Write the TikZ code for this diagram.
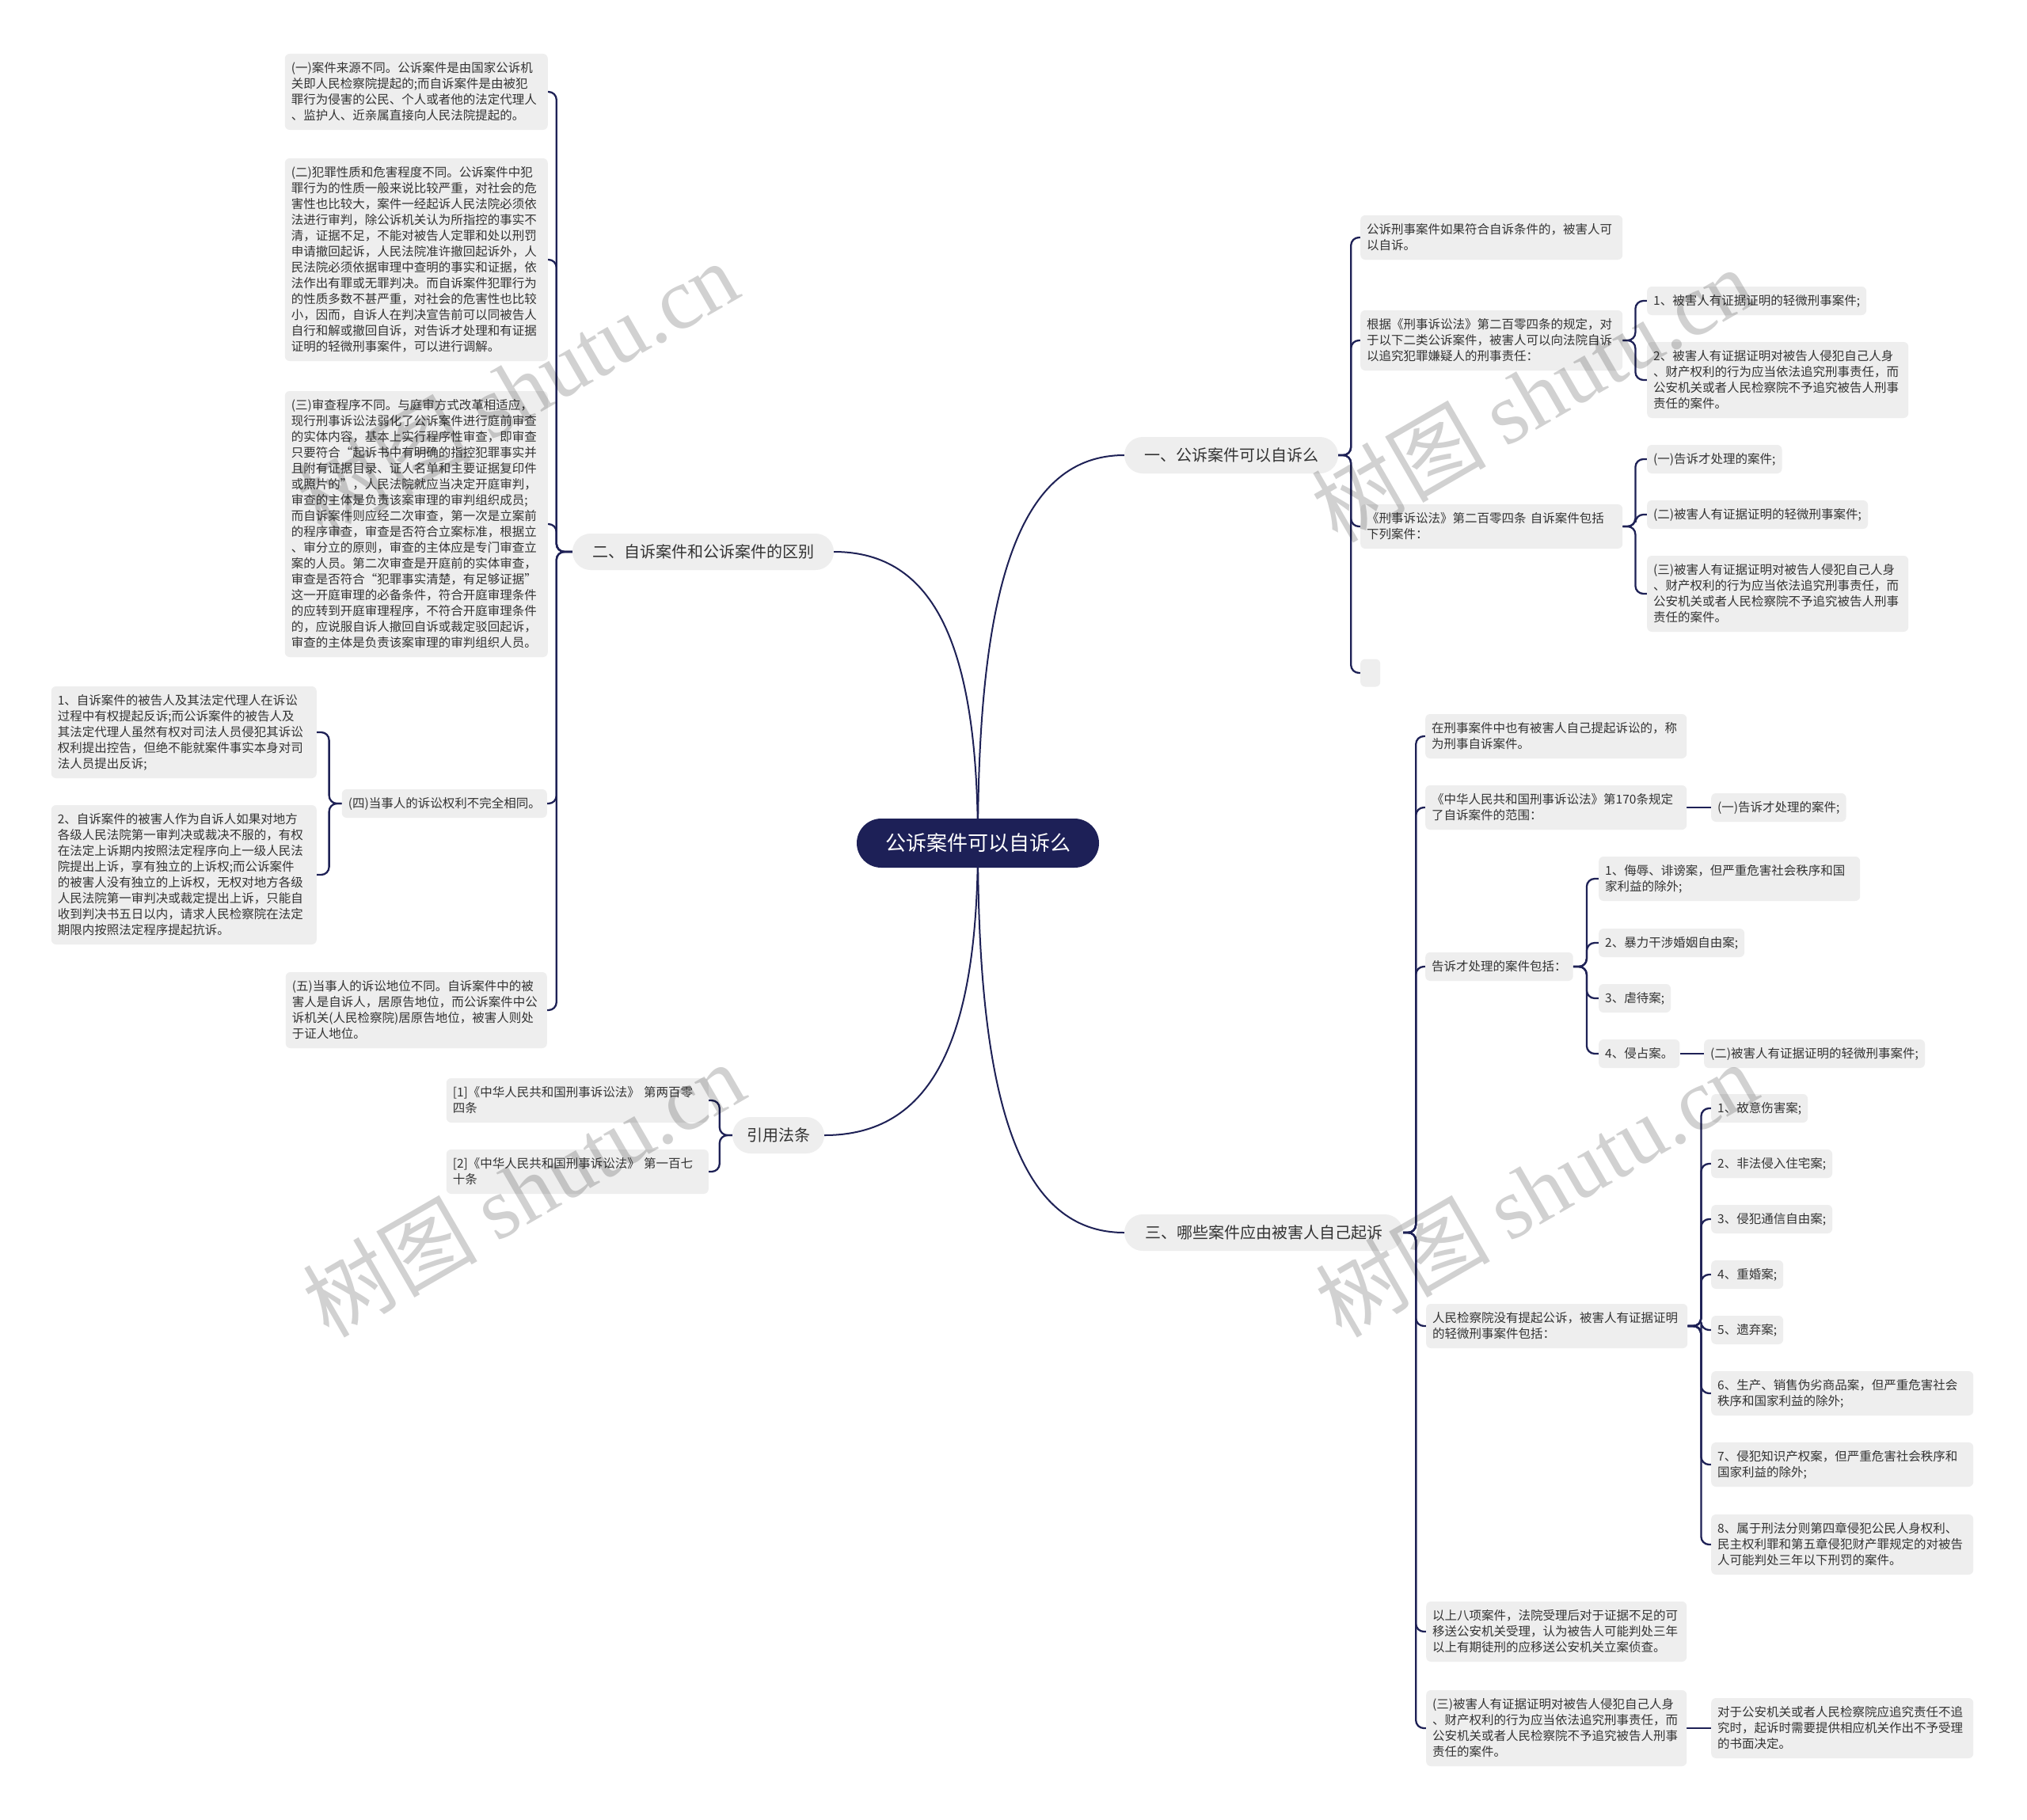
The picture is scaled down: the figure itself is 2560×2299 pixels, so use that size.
\documentclass[tikz,border=0pt]{standalone}
\usepackage{fontspec}
\setmainfont{Noto Sans CJK SC}
\newfontfamily\wmserif{Liberation Serif}
\usetikzlibrary{backgrounds}
\definecolor{linec}{HTML}{1E2156}
\definecolor{rootc}{HTML}{1D2057}
\definecolor{boxc}{HTML}{EEEEEE}
\definecolor{txtc}{HTML}{333333}
\tikzset{
  mainline/.style={draw=linec, line width=2pt},
  conn/.style={draw=linec, line width=2.3pt, rounded corners=10pt},
  box/.style={fill=boxc, rounded corners=6pt, text=txtc, font=\fontsize{15.5}{20}\selectfont, align=left, inner xsep=8pt, inner ysep=0pt},
  lines/.style={minimum height={20*#1+16}},
  pill/.style={fill=boxc, rounded corners=23pt, text=txtc, font=\fontsize{20}{24}\selectfont, minimum height=46pt, inner sep=0pt},
  rootnode/.style={fill=rootc, rounded corners=31pt, text=white, font=\fontsize{26}{30}\selectfont, minimum width=306pt, minimum height=62pt, inner sep=0pt},
  wm/.style={text=black, opacity=0.18, rotate=30, font=\fontsize{110}{110}\selectfont, inner sep=0pt}
}
\begin{document}
\begin{tikzpicture}[x=1pt,y=-1pt]
\useasboundingbox (0,0) rectangle (2560,2299);

% root and main branches
\node[rootnode] (root) at (1235,1065) {公诉案件可以自诉么};
\node[pill, minimum width=270] (b1) at (1555,575) {一、公诉案件可以自诉么};
\node[pill, minimum width=330] (b2) at (888,697) {二、自诉案件和公诉案件的区别};
\node[pill, minimum width=116] (b3) at (983,1434) {引用法条};
\node[pill, minimum width=352] (b4) at (1596,1557) {三、哪些案件应由被害人自己起诉};

% ---- branch 二 (left)
\node[box, text width=316, lines=4, anchor=east] (l1) at (692,116) {(一)案件来源不同。公诉案件是由国家公诉机\\关即人民检察院提起的;而自诉案件是由被犯\\罪行为侵害的公民、个人或者他的法定代理人\\、监护人、近亲属直接向人民法院提起的。};
\node[box, text width=316, lines=12, anchor=east] (l2) at (692,328) {(二)犯罪性质和危害程度不同。公诉案件中犯\\罪行为的性质一般来说比较严重，对社会的危\\害性也比较大，案件一经起诉人民法院必须依\\法进行审判，除公诉机关认为所指控的事实不\\清，证据不足，不能对被告人定罪和处以刑罚\\申请撤回起诉，人民法院准许撤回起诉外，人\\民法院必须依据审理中查明的事实和证据，依\\法作出有罪或无罪判决。而自诉案件犯罪行为\\的性质多数不甚严重，对社会的危害性也比较\\小，因而，自诉人在判决宣告前可以同被告人\\自行和解或撤回自诉，对告诉才处理和有证据\\证明的轻微刑事案件，可以进行调解。};
\node[box, text width=316, lines=16, anchor=east] (l3) at (692,662) {(三)审查程序不同。与庭审方式改革相适应，\\现行刑事诉讼法弱化了公诉案件进行庭前审查\\的实体内容，基本上实行程序性审查，即审查\\只要符合“起诉书中有明确的指控犯罪事实并\\且附有证据目录、证人名单和主要证据复印件\\或照片的”，人民法院就应当决定开庭审判，\\审查的主体是负责该案审理的审判组织成员;\\而自诉案件则应经二次审查，第一次是立案前\\的程序审查，审查是否符合立案标准，根据立\\、审分立的原则，审查的主体应是专门审查立\\案的人员。第二次审查是开庭前的实体审查，\\审查是否符合“犯罪事实清楚，有足够证据”\\这一开庭审理的必备条件，符合开庭审理条件\\的应转到开庭审理程序，不符合开庭审理条件\\的，应说服自诉人撤回自诉或裁定驳回起诉，\\审查的主体是负责该案审理的审判组织人员。};
\node[box, lines=1, anchor=east] (l4) at (691,1015) {(四)当事人的诉讼权利不完全相同。};
\node[box, text width=319, lines=5, anchor=east] (l4a) at (400,925) {1、自诉案件的被告人及其法定代理人在诉讼\\过程中有权提起反诉;而公诉案件的被告人及\\其法定代理人虽然有权对司法人员侵犯其诉讼\\权利提出控告，但绝不能就案件事实本身对司\\法人员提出反诉;};
\node[box, text width=319, lines=8, anchor=east] (l4b) at (400,1105) {2、自诉案件的被害人作为自诉人如果对地方\\各级人民法院第一审判决或裁决不服的，有权\\在法定上诉期内按照法定程序向上一级人民法\\院提出上诉，享有独立的上诉权;而公诉案件\\的被害人没有独立的上诉权，无权对地方各级\\人民法院第一审判决或裁定提出上诉，只能自\\收到判决书五日以内，请求人民检察院在法定\\期限内按照法定程序提起抗诉。};
\node[box, text width=314, lines=4, anchor=east] (l5) at (691,1276) {(五)当事人的诉讼地位不同。自诉案件中的被\\害人是自诉人，居原告地位，而公诉案件中公\\诉机关(人民检察院)居原告地位，被害人则处\\于证人地位。};

% ---- 引用法条
\node[box, text width=315, lines=2, anchor=east] (c1) at (895,1390) {[1]《中华人民共和国刑事诉讼法》 第两百零\\四条};
\node[box, text width=315, lines=2, anchor=east] (c2) at (895,1480) {[2]《中华人民共和国刑事诉讼法》 第一百七\\十条};

% ---- branch 一 (right)
\node[box, text width=315, lines=2, anchor=west] (r1) at (1718,300) {公诉刑事案件如果符合自诉条件的，被害人可\\以自诉。};
\node[box, text width=315, lines=3, anchor=west] (r2) at (1718,430) {根据《刑事诉讼法》第二百零四条的规定，对\\于以下二类公诉案件，被害人可以向法院自诉\\以追究犯罪嫌疑人的刑事责任：};
\node[box, lines=1, anchor=west] (r2a) at (2080,380) {1、被害人有证据证明的轻微刑事案件;};
\node[box, text width=314, lines=4, anchor=west] (r2b) at (2080,480) {2、被害人有证据证明对被告人侵犯自己人身\\、财产权利的行为应当依法追究刑事责任，而\\公安机关或者人民检察院不予追究被告人刑事\\责任的案件。};
\node[box, text width=315, lines=2, anchor=west] (r3) at (1718,665) {《刑事诉讼法》第二百零四条 自诉案件包括\\下列案件：};
\node[box, lines=1, anchor=west] (r3a) at (2080,580) {(一)告诉才处理的案件;};
\node[box, lines=1, anchor=west] (r3b) at (2080,650) {(二)被害人有证据证明的轻微刑事案件;};
\node[box, text width=314, lines=4, anchor=west] (r3c) at (2080,750) {(三)被害人有证据证明对被告人侵犯自己人身\\、财产权利的行为应当依法追究刑事责任，而\\公安机关或者人民检察院不予追究被告人刑事\\责任的案件。};
\node[box, minimum width=25, minimum height=35, inner sep=0pt, anchor=west] (r4) at (1718,850) {};

% ---- branch 三 (right)
\node[box, text width=314, lines=2, anchor=west] (s1) at (1800,930) {在刑事案件中也有被害人自己提起诉讼的，称\\为刑事自诉案件。};
\node[box, text width=314, lines=2, anchor=west] (s2) at (1800,1020) {《中华人民共和国刑事诉讼法》第170条规定\\了自诉案件的范围：};
\node[box, lines=1, anchor=west] (s2a) at (2161,1020) {(一)告诉才处理的案件;};
\node[box, lines=1, anchor=west] (s3) at (1800,1221) {告诉才处理的案件包括：};
\node[box, text width=314, lines=2, anchor=west] (s3a) at (2019,1110) {1、侮辱、诽谤案，但严重危害社会秩序和国\\家利益的除外;};
\node[box, lines=1, anchor=west] (s3b) at (2019,1191) {2、暴力干涉婚姻自由案;};
\node[box, lines=1, anchor=west] (s3c) at (2019,1261) {3、虐待案;};
\node[box, lines=1, anchor=west] (s3d) at (2019,1331) {4、侵占案。};
\node[box, lines=1, anchor=west] (s3e) at (2152,1331) {(二)被害人有证据证明的轻微刑事案件;};
\node[box, text width=314, lines=2, anchor=west] (s4) at (1801,1675) {人民检察院没有提起公诉，被害人有证据证明\\的轻微刑事案件包括：};
\node[box, lines=1, anchor=west] (s4a) at (2161,1400) {1、故意伤害案;};
\node[box, lines=1, anchor=west] (s4b) at (2161,1470) {2、非法侵入住宅案;};
\node[box, lines=1, anchor=west] (s4c) at (2161,1540) {3、侵犯通信自由案;};
\node[box, lines=1, anchor=west] (s4d) at (2161,1610) {4、重婚案;};
\node[box, lines=1, anchor=west] (s4e) at (2161,1680) {5、遗弃案;};
\node[box, text width=315, lines=2, anchor=west] (s4f) at (2161,1760) {6、生产、销售伪劣商品案，但严重危害社会\\秩序和国家利益的除外;};
\node[box, text width=315, lines=2, anchor=west] (s4g) at (2161,1850) {7、侵犯知识产权案，但严重危害社会秩序和\\国家利益的除外;};
\node[box, text width=315, lines=3, anchor=west] (s4h) at (2161,1951) {8、属于刑法分则第四章侵犯公民人身权利、\\民主权利罪和第五章侵犯财产罪规定的对被告\\人可能判处三年以下刑罚的案件。};
\node[box, text width=313, lines=3, anchor=west] (s5) at (1801,2061) {以上八项案件，法院受理后对于证据不足的可\\移送公安机关受理，认为被告人可能判处三年\\以上有期徒刑的应移送公安机关立案侦查。};
\node[box, text width=313, lines=4, anchor=west] (s6) at (1801,2183) {(三)被害人有证据证明对被告人侵犯自己人身\\、财产权利的行为应当依法追究刑事责任，而\\公安机关或者人民检察院不予追究被告人刑事\\责任的案件。};
\node[box, text width=315, lines=3, anchor=west] (s6a) at (2161,2183) {对于公安机关或者人民检察院应追究责任不追\\究时，起诉时需要提供相应机关作出不予受理\\的书面决定。};

% ---- background and connectors
\begin{scope}[on background layer]
\fill[white] (0,0) rectangle (2560,2299);
\draw[mainline] (root.center) .. controls (1235,732) and (1290,575) .. (b1.west);
\draw[mainline] (root.center) .. controls (1235,815) and (1180,697) .. (b2.east);
\draw[mainline] (root.center) .. controls (1235,1316) and (1176,1434) .. (b3.east);
\draw[mainline] (root.center) .. controls (1235,1400) and (1290,1557) .. (b4.west);

\foreach \c in {l1,l2,l3,l4,l5} \draw[conn] (b2.west) -- ++(-20,0) |- (\c.east);
\foreach \c in {l4a,l4b} \draw[conn] (l4.west) -- ++(-16,0) |- (\c.east);
\foreach \c in {c1,c2} \draw[conn] (b3.west) -- ++(-16,0) |- (\c.east);

\foreach \c in {r1,r2,r3,r4} \draw[conn] (b1.east) -- ++(16,0) |- (\c.west);
\foreach \c in {r2a,r2b} \draw[conn] (r2.east) -- ++(16,0) |- (\c.west);
\foreach \c in {r3a,r3b,r3c} \draw[conn] (r3.east) -- ++(16,0) |- (\c.west);

\foreach \c in {s1,s2,s3,s4,s5,s6} \draw[conn] (b4.east) -- ++(16,0) |- (\c.west);
\draw[conn] (s2.east) -- (s2a.west);
\foreach \c in {s3a,s3b,s3c,s3d} \draw[conn] (s3.east) -- ++(17,0) |- (\c.west);
\draw[conn] (s3d.east) -- (s3e.west);
\foreach \c in {s4a,s4b,s4c,s4d,s4e,s4f,s4g,s4h} \draw[conn] (s4.east) -- ++(17,0) |- (\c.west);
\draw[conn] (s6.east) -- (s6a.west);
\end{scope}

% ---- watermarks
\node[wm] (w1) at (653,490) {树图 {\wmserif shutu.cn}};
\node[wm] (w2) at (661,1502) {树图 {\wmserif shutu.cn}};
\node[wm] (w3) at (1935,498) {树图 {\wmserif shutu.cn}};
\node[wm] (w4) at (1940,1502) {树图 {\wmserif shutu.cn}};
\end{tikzpicture}
\end{document}
